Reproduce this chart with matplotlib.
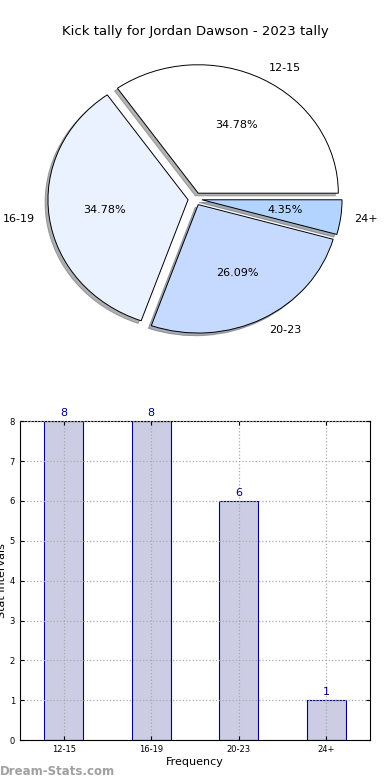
import matplotlib
matplotlib.use('Agg')
import matplotlib.pyplot as plt

# data
categories = ['12-15', '16-19', '20-23', '24+']
counts = [8, 8, 6, 1]
pie_colors = ['#FFFFFF', '#EAF1FF', '#C6D9FF', '#B3D4FF']

fig = plt.figure(figsize=(3.9, 7.8), dpi=100)

# pie chart
ax1 = fig.add_axes([0.051, 0.554, 0.898, 0.382])
wedges, texts, autotexts = ax1.pie(counts, labels=categories, colors=pie_colors,
                                   explode=[0.05] * 4, autopct='%1.2f%%', startangle=0,
                                   shadow={'ox': -0.015, 'oy': -0.015, 'shade': 0.6},
                                   wedgeprops={'edgecolor': 'black', 'linewidth': 0.7},
                                   textprops={'fontsize': 8})
ax1.set_aspect('auto')
ax1.set_xlim(-1.25, 1.25)
ax1.set_ylim(-1.16, 1.16)
ax1.set_title('Kick tally for Jordan Dawson - 2023 tally', fontsize=9.5, pad=11)

# bar chart
ax2 = fig.add_axes([0.051, 0.051, 0.898, 0.409])
x = range(len(categories))
bars = ax2.bar(x, counts, width=0.45, color='#CCCCE5', edgecolor='navy', linewidth=0.8, zorder=2)
for xi, c in zip(x, counts):
    ax2.text(xi, c + 0.08, str(c), ha='center', va='bottom', color='navy', fontsize=8)
ax2.set_xlim(-0.5, 3.5)
ax2.set_ylim(0, 8)
ax2.set_xticks(list(x))
ax2.set_xticklabels(categories)
ax2.set_yticks(range(0, 9))
ax2.tick_params(labelsize=6, direction='in', top=True, right=True, length=3)
ax2.grid(True, linestyle=':', color='#AAAAAA', linewidth=0.9, zorder=3)
ax2.set_axisbelow(False)
ax2.set_ylabel('Stat Intervals', fontsize=8, labelpad=2)
ax2.set_xlabel('Frequency', fontsize=8, labelpad=2)

fig.text(0.0, 0.006, 'Dream-Stats.com', fontsize=8.5, color='#A0A0A0', fontweight='bold')

plt.savefig('out.png', dpi=100)
